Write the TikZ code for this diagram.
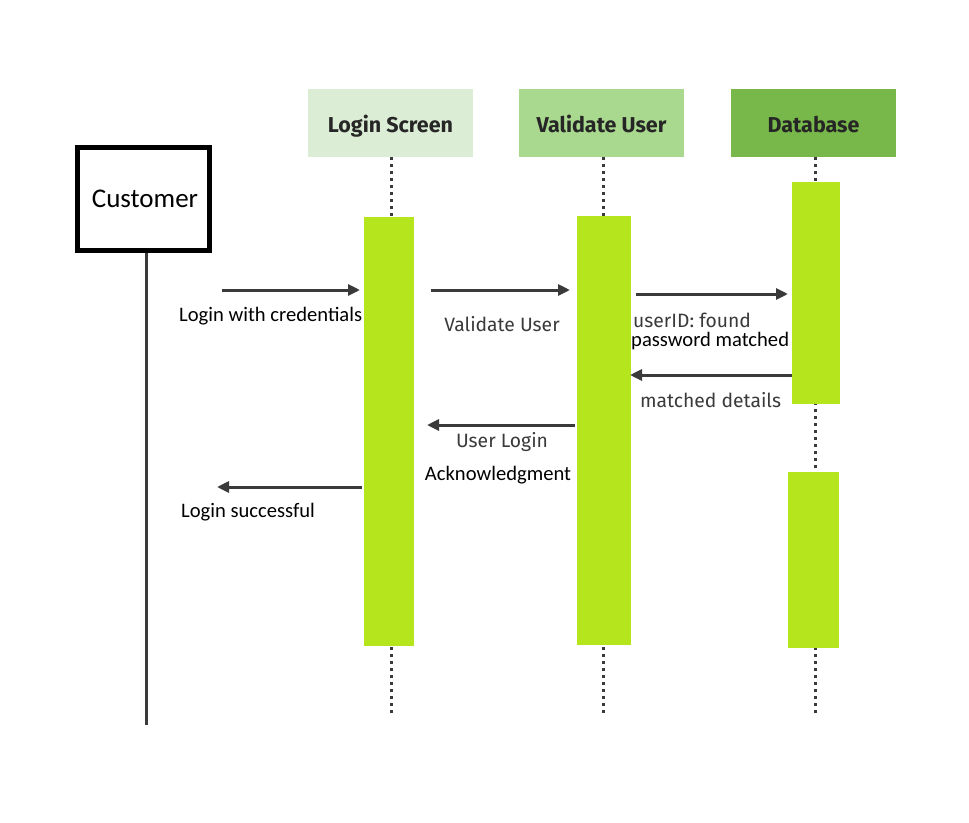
\documentclass[tikz,border=0pt]{standalone}
\usepackage{fontspec}
\setmainfont{Carlito}
\newfontfamily\headfont{Fira Sans}
\usetikzlibrary{arrows.meta}
\definecolor{hdA}{HTML}{DCEDD5}
\definecolor{hdB}{HTML}{A9D98E}
\definecolor{hdC}{HTML}{78B74A}
\definecolor{lime}{HTML}{B5E61D}
\definecolor{ink}{HTML}{3A3A3A}
\begin{document}
\begin{tikzpicture}[x=1pt,y=-1pt,
  header/.style={fill=#1, draw=none, minimum width=165pt, minimum height=68pt, inner sep=0pt,
    text height=18pt, text depth=0pt,
    font=\headfont\bfseries\fontsize{21.5}{24}\selectfont, text=black!85},
  bar/.style={fill=lime, draw=none, inner sep=0pt},
  lifedots/.style={draw=ink, line width=3pt, dash pattern=on 2.8pt off 4.2pt},
  msg/.style={draw=ink, line width=3pt, -{Triangle[length=12pt,width=11pt]}},
  clab/.style={font=\fontsize{20.6}{23}\selectfont, text=black, inner sep=0pt},
  dlab/.style={font=\headfont\fontsize{19.3}{22}\selectfont, text=ink, inner sep=0pt}]
\useasboundingbox[fill=white] (0,0) rectangle (969,822);

% headers
\node[header=hdA] (hLogin) at (390.5,123) {Login Screen};
\node[header=hdB] (hVal) at (601.5,123) {Validate User};
\node[header=hdC] (hDb) at (813.5,123) {Database};

% lifelines
\coordinate (eLogin) at (391,715);
\coordinate (eVal) at (603,715);
\coordinate (eDb) at (815,715);
\draw[lifedots] (hLogin.south -| eLogin) -- (eLogin);
\draw[lifedots] (hVal.south -| eVal) -- (eVal);
\draw[lifedots] (hDb.south -| eDb) -- (eDb);

% activation bars
\node[bar, minimum width=50pt, minimum height=429pt] (bLogin) at (389,431.5) {};
\node[bar, minimum width=54pt, minimum height=429pt] (bVal) at (604,430.5) {};
\node[bar, minimum width=48pt, minimum height=222pt] (bDb1) at (816,293) {};
\node[bar, minimum width=51pt, minimum height=176pt] (bDb2) at (813.5,560) {};

% customer
\node[draw=black, line width=5pt, minimum width=132pt, minimum height=103pt, inner sep=0pt,
  font=\fontsize{27}{30}\selectfont] (cust) at (143.5,199) {\hspace*{3pt}Customer};
\coordinate (eCust) at (146,725);
\draw[draw=ink, line width=3pt] (cust.south -| eCust) -- (eCust);

% messages
\coordinate (m1s) at (222,290); \coordinate (m1e) at (360,290);
\coordinate (m2s) at (431,290); \coordinate (m2e) at (570,290);
\coordinate (m3s) at (636,294); \coordinate (m3e) at (788,294);
\coordinate (m4s) at (792,375); \coordinate (m4e) at (630,375);
\coordinate (m5s) at (575,425); \coordinate (m5e) at (427,425);
\coordinate (m6s) at (362,487); \coordinate (m6e) at (217,487);
\draw[msg] (m1s) -- (m1e);
\draw[msg] (m2s) -- (m2e);
\draw[msg] (m3s) -- (m3e);
\draw[msg] (m4s) -- (m4e);
\draw[msg] (m5s) -- (m5e);
\draw[msg] (m6s) -- (m6e);

% labels
\node[clab, anchor=west] (l1) at (179,316) {Login with credentials};
\node[dlab] (l2) at (502,324) {Validate User};
\node[dlab, anchor=west] (l3a) at (633,320) {userID: found};
\node[clab, anchor=west] (l3b) at (631,341) {password matched};
\node[dlab, anchor=west] (l4) at (640,400) {matched details};
\node[dlab] (l5a) at (502,442) {User Login};
\node[clab] (l5b) at (498,475) {Acknowledgment};
\node[clab, anchor=west] (l6) at (181,512) {Login successful};
\end{tikzpicture}
\end{document}
